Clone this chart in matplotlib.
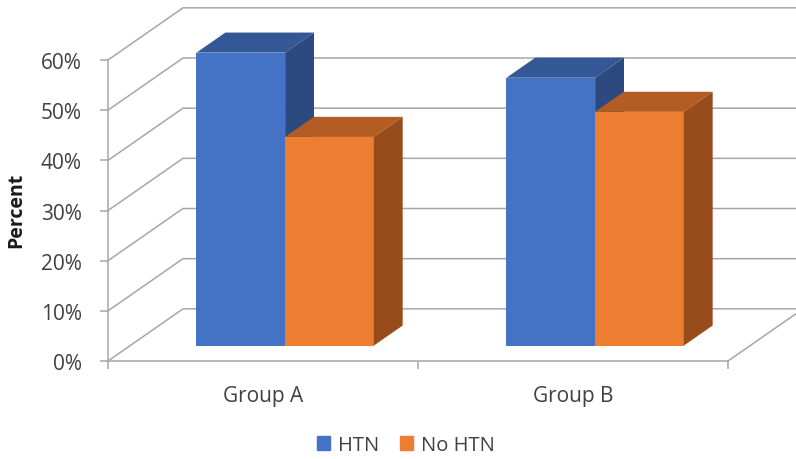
import matplotlib.pyplot as plt
from matplotlib.patches import Patch
from matplotlib.ticker import PercentFormatter

plt.rcParams['font.family'] = ['Open Sans', 'DejaVu Sans']

# Data
groups = ['Group A', 'Group B']
series = ['HTN', 'No HTN']
htn = [58.4, 53.4]
no_htn = [41.6, 46.6]
yticks = [0, 10, 20, 30, 40, 50, 60]

front_colors = ['#4472C4', '#ED7D31']
top_colors = ['#345896', '#B45D22']
side_colors = ['#2C4A7F', '#984C1C']
grid_color = '#A6A6A6'

# oblique depth offset for the full floor depth (x in category units, y in percent)
DX = 0.242
DY = 10.4
BAR_W = 0.286
Z0, Z1 = 0.295, 0.68


def proj(x, y, z):
    return x + z * DX, y + z * DY


fig = plt.figure(figsize=(7.96, 4.60), dpi=100)
ax = fig.add_axes([0, 0, 1, 1])
ax.set_xlim(-0.3484, 2.2194)
ax.set_ylim(-19.53, 72.16)

n = len(groups)

# walls: gridlines run along the side wall then across the back wall
for t in yticks:
    pts = [proj(0, t, 0), proj(0, t, 1), proj(n, t, 1)]
    ax.plot([p[0] for p in pts], [p[1] for p in pts], color=grid_color, lw=1.1, zorder=1)

# right edge of the floor
pts = [proj(n, 0, 0), proj(n, 0, 1)]
ax.plot([p[0] for p in pts], [p[1] for p in pts], color=grid_color, lw=1.1, zorder=1)


def draw_bar(x0, value, k):
    x1 = x0 + BAR_W
    front = [proj(x0, 0, Z0), proj(x1, 0, Z0), proj(x1, value, Z0), proj(x0, value, Z0)]
    top = [proj(x0, value, Z0), proj(x1, value, Z0), proj(x1, value, Z1), proj(x0, value, Z1)]
    side = [proj(x1, 0, Z0), proj(x1, 0, Z1), proj(x1, value, Z1), proj(x1, value, Z0)]
    for face, c in [(front, front_colors[k]), (top, top_colors[k]), (side, side_colors[k])]:
        ax.fill([p[0] for p in face], [p[1] for p in face], color=c, lw=0, zorder=3)


for i in range(n):
    for k, vals in enumerate([htn, no_htn]):
        draw_bar(i + 0.5 - BAR_W + k * BAR_W, vals[i], k)

# axes styling
for s in ['top', 'right']:
    ax.spines[s].set_visible(False)
ax.spines['left'].set_position(('data', 0))
ax.spines['left'].set_bounds(0, 60)
ax.spines['bottom'].set_position(('data', 0))
ax.spines['bottom'].set_bounds(0, n)
for s in ['left', 'bottom']:
    ax.spines[s].set_color(grid_color)
    ax.spines[s].set_linewidth(1.1)

ax.set_yticks(yticks)
ax.yaxis.set_major_formatter(PercentFormatter(decimals=0))
ax.tick_params(axis='y', direction='out', length=5.8, width=1.1, color=grid_color,
               pad=13, labelsize=15, labelcolor='#404040')

ax.set_xticks(range(n + 1), labels=[''] * (n + 1))
ax.set_xticks([i + 0.5 for i in range(n)], labels=groups, minor=True)
ax.tick_params(axis='x', which='major', direction='out', length=5.8, width=1.1, color=grid_color)
ax.tick_params(axis='x', which='minor', length=0, pad=17, labelsize=15, labelcolor='#404040')

ax.set_ylabel('Percent', fontsize=14, fontweight='bold', color='#1a1a1a')
ax.yaxis.set_label_coords(0.033, 0.543)

handles = [Patch(color=front_colors[k], label=series[k]) for k in range(2)]
ax.legend(handles=handles, loc='center', bbox_to_anchor=(0.51, 0.03), ncol=2, frameon=False,
          fontsize=14.5, handlelength=0.67, handleheight=0.67, handletextpad=0.4,
          columnspacing=1.0, labelcolor='#404040')

fig.savefig('out.png', dpi=100)
